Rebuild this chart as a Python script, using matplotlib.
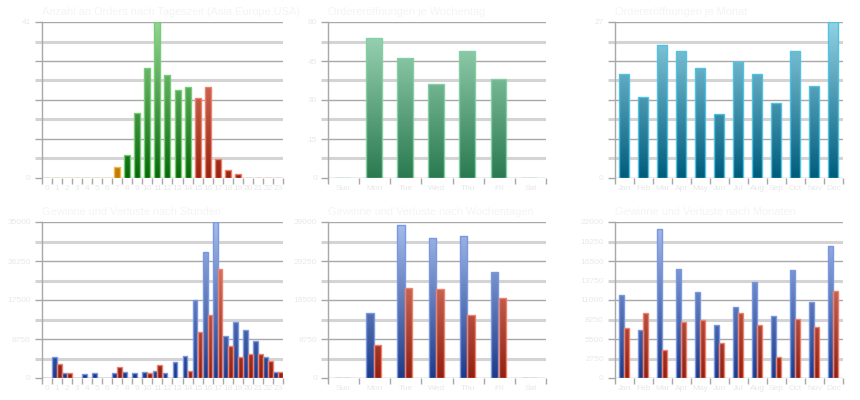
import numpy as np
import matplotlib
matplotlib.use('Agg')
import matplotlib.pyplot as plt
from matplotlib.colors import LinearSegmentedColormap

plt.rcParams['font.family'] = ['Liberation Sans', 'DejaVu Sans']

hours = [str(h) for h in range(24)]
days = ['Sun', 'Mon', 'Tue', 'Wed', 'Thu', 'Fri', 'Sat']
months = ['Jan', 'Feb', 'Mar', 'Apr', 'May', 'Jun', 'Jul', 'Aug', 'Sep', 'Oct', 'Nov', 'Dec']

# orders per hour and the trading session the hour belongs to
orders_hour = [0, 0, 0, 0, 0, 0, 0, 3, 6, 17, 29, 41, 27, 23, 24, 21, 24, 5, 2, 1, 0, 0, 0, 0]
session_hour = ['asia'] * 8 + ['europe'] * 7 + ['usa'] * 9
orders_day = [0, 54, 46, 36, 49, 38, 0]
orders_month = [18, 14, 23, 22, 19, 11, 20, 18, 13, 22, 16, 27]

gain_hour = [0, 4700, 1100, 0, 900, 1100, 0, 1200, 1270, 1100, 1270, 1500, 1100, 3650,
             5000, 17500, 28270, 35000, 9420, 12560, 10700, 8380, 4710, 1350]
loss_hour = [0, 3140, 1100, 0, 0, 0, 0, 2540, 0, 0, 1100, 2990, 0, 0,
             1500, 10250, 14210, 24460, 7100, 4710, 5390, 5390, 3890, 1350]
gain_day = [0, 16250, 38250, 34900, 35500, 26500, 0]
loss_day = [0, 8250, 22500, 22300, 15750, 20000, 0]
gain_month = [11650, 6770, 21060, 15420, 12130, 7520, 10060, 13490, 8790, 15280, 10770, 18620]
loss_month = [7100, 9210, 3950, 7900, 8230, 4980, 9170, 7520, 2960, 8270, 7150, 12320]

# (bottom colour, top colour, edge colour)
styles = {
    'asia': ('#c27a00', '#f2c060', '#f0b848'),
    'europe': ('#086808', '#92d692', '#78cc78'),
    'usa': ('#962410', '#e8907c', '#f0806c'),
    'week': ('#2a7a50', '#a2dabb', '#84d0a4'),
    'month': ('#005c7c', '#92d2e4', '#50c2e2'),
    'gain': ('#1c3a88', '#a6bdec', '#7898e4'),
    'loss': ('#922010', '#ea9482', '#f0806c'),
}

GRID_DARK = '#a8a8a8'
GRID_LIGHT = '#d4d4d4'
TEXT = '#e8e8e8'


def grad_bar(ax, x, h, w, style, ymax):
    bottom, top, edge = styles[style]
    cmap = LinearSegmentedColormap.from_list(style, [bottom, top])
    grad = np.linspace(0, 1, 256).reshape(-1, 1)
    bars = ax.bar(x, h, w, color='none', edgecolor=edge, linewidth=1.0, zorder=4)
    for b in bars:
        if b.get_height() <= 0:
            continue
        x0 = b.get_x()
        im = ax.imshow(grad, cmap=cmap, origin='lower', aspect='auto',
                       extent=[x0, x0 + b.get_width(), 0, ymax], zorder=3)
        im.set_clip_path(b)


def setup(ax, cats, ymax, labels, title):
    n = len(cats)
    ax.set_xlim(-0.5, n - 0.5)
    ax.set_ylim(0, ymax)
    levels = np.linspace(0, ymax, 9)
    ax.set_yticks(levels)
    lab = []
    for i, v in enumerate(levels):
        if labels == 'ends':
            lab.append(str(int(round(v))) if i in (0, 8) else '')
        elif labels == 'major':
            lab.append(str(int(round(v))) if i % 2 == 0 else '')
        else:
            lab.append(str(int(round(v))))
    ax.set_yticklabels(lab)
    ax.tick_params(axis='y', length=5, pad=3, labelsize=6, labelcolor=TEXT)
    ax.grid(True, axis='y')
    for i, t in enumerate(ax.yaxis.get_major_ticks()):
        c = GRID_DARK if i % 2 == 0 else GRID_LIGHT
        lw = 1.0 if i % 2 == 0 else 2.2
        t.gridline.set_color(c)
        t.gridline.set_linewidth(lw)
        t.gridline.set_zorder(1)
        t.tick1line.set_markeredgecolor(c)
        t.tick1line.set_markeredgewidth(lw)
    ax.set_xticks(range(n))
    ax.set_xticklabels(cats)
    ax.set_xticks(np.arange(n + 1) - 0.5, minor=True)
    ax.tick_params(axis='x', which='major', length=0, pad=5, labelsize=6, labelcolor=TEXT)
    ax.tick_params(axis='x', which='minor', length=4, width=1, color=GRID_DARK)
    for s in ['top', 'right', 'bottom']:
        ax.spines[s].set_visible(False)
    ax.spines['left'].set_color(GRID_DARK)
    ax.spines['left'].set_linewidth(1.0)
    ax.spines['left'].set_zorder(5)
    ax.set_axisbelow(True)
    ax.set_title(title, loc='left', fontsize=7.9, color='#f4f4f4', pad=5)


fig = plt.figure(figsize=(8.6, 4.0), dpi=100)
fig.patch.set_facecolor('white')
cols = [(0.0488, 0.2802), (0.3814, 0.2535), (0.7151, 0.2651)]
rows = [0.555, 0.055]
axs = [[fig.add_axes([c[0], r, c[1], 0.39]) for c in cols] for r in rows]

# Orders by hour
ax = axs[0][0]
for s in ['asia', 'europe', 'usa']:
    idx = [i for i in range(24) if session_hour[i] == s]
    grad_bar(ax, idx, [orders_hour[i] for i in idx], 0.6, s, 41)
setup(ax, hours, 41, 'ends', 'Anzahl an Orders nach Tageszeit (Asia,Europe,USA)')

ax = axs[0][1]
grad_bar(ax, np.arange(7) - 0.03, orders_day, 0.5, 'week', 60)
setup(ax, days, 60, 'major', 'Ordereröffnungen je Wochentag')

ax = axs[0][2]
grad_bar(ax, np.arange(12) - 0.02, orders_month, 0.5, 'month', 27)
setup(ax, months, 27, 'ends', 'Ordereröffnungen je Monat')

ax = axs[1][0]
x = np.arange(24)
grad_bar(ax, x - 0.25, gain_hour, 0.48, 'gain', 35000)
grad_bar(ax, x + 0.24, loss_hour, 0.48, 'loss', 35000)
setup(ax, hours, 35000, 'major', 'Gewinne und Verluste nach Stunden')

ax = axs[1][1]
x = np.arange(7)
grad_bar(ax, x - 0.155, gain_day, 0.235, 'gain', 39000)
grad_bar(ax, x + 0.095, loss_day, 0.235, 'loss', 39000)
setup(ax, days, 39000, 'major', 'Gewinne und Verluste nach Wochentagen')

ax = axs[1][2]
x = np.arange(12)
grad_bar(ax, x - 0.15, gain_month, 0.24, 'gain', 22000)
grad_bar(ax, x + 0.11, loss_month, 0.24, 'loss', 22000)
setup(ax, months, 22000, 'all', 'Gewinne und Verluste nach Monaten')

fig.savefig('out.png', dpi=100, facecolor='white')
